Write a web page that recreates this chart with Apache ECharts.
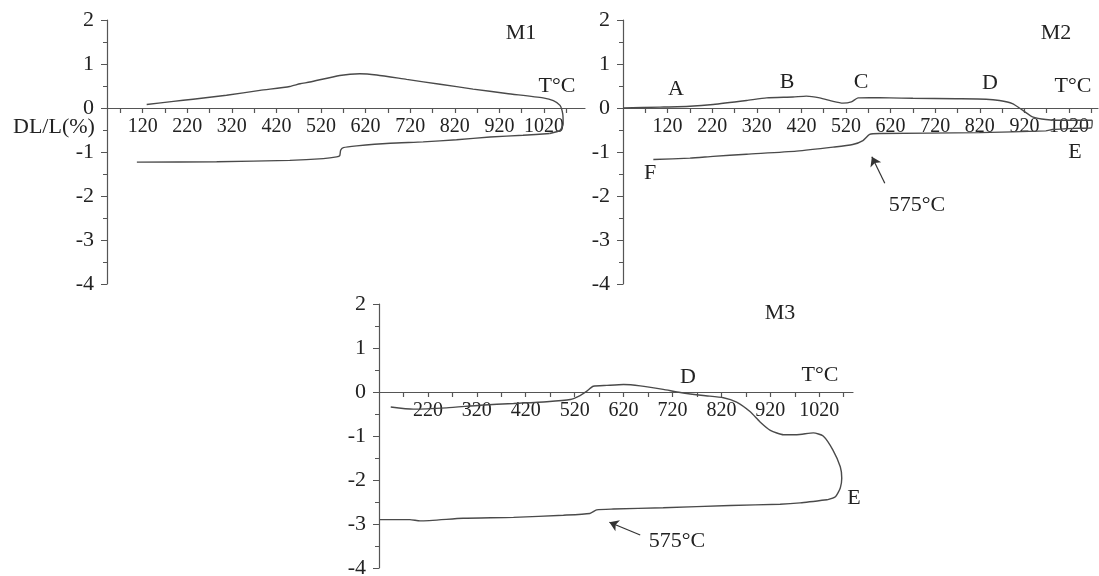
<!DOCTYPE html>
<html>
<head>
<meta charset="utf-8">
<script src="https://cdn.jsdelivr.net/npm/echarts@6/dist/echarts.min.js"></script>
<style>
  html, body { margin: 0; padding: 0; background: #fff; }
  #main { width: 1099px; height: 576px; }
</style>
</head>
<body>
<div id="main"></div>
<script>
// dilatometer curves, [T °C, DL/L %]
const m1Heat = [[129,0.08],[189,0.15],[233,0.2],[308,0.29],[383,0.4],[450,0.49],[473,0.55],[495,0.59],[562,0.74],[607,0.78],[645,0.75],[712,0.65],[787,0.54],[861,0.43],[936,0.33],[1018,0.23],[1041,0.17],[1056,0.06],[1062,-0.13],[1063,-0.36],[1056,-0.51],[1033,-0.58]];
const m1Cool = [[1033,-0.58],[973,-0.62],[899,-0.66],[824,-0.72],[749,-0.77],[675,-0.8],[600,-0.86],[570,-0.9],[564,-0.96],[562,-1.08],[555,-1.11],[525,-1.15],[450,-1.19],[286,-1.22],[107,-1.23]];

const m2Heat = [[20,0],[103,0.02],[170,0.04],[222,0.08],[297,0.17],[342,0.23],[401,0.25],[431,0.27],[461,0.23],[491,0.15],[513,0.11],[532,0.14],[547,0.23],[573,0.235],[618,0.23],[670,0.22],[767,0.21],[834,0.2],[864,0.17],[893,0.1],[916,-0.05],[938,-0.2],[968,-0.26],[1020,-0.28],[1072,-0.28]];
const m2Cool = [[1072,-0.28],[1070,-0.45],[1043,-0.46],[983,-0.49],[968,-0.52],[819,-0.56],[595,-0.58],[573,-0.6],[558,-0.74],[535,-0.83],[491,-0.89],[409,-0.98],[297,-1.05],[222,-1.1],[170,-1.14],[88,-1.17]];

const m3Heat = [[144,-0.34],[190,-0.39],[258,-0.36],[327,-0.3],[395,-0.26],[463,-0.22],[511,-0.17],[531,-0.08],[545,0.02],[558,0.13],[586,0.15],[620,0.17],[654,0.14],[701,0.06],[736,-0.01],[783,-0.08],[824,-0.13],[851,-0.23],[879,-0.45],[899,-0.68],[920,-0.87],[947,-0.97],[974,-0.97],[1008,-0.93],[1028,-1.0],[1048,-1.32],[1063,-1.7],[1066,-1.96],[1063,-2.18],[1053,-2.38],[1036,-2.45]];
const m3Cool = [[1036,-2.45],[981,-2.52],[940,-2.55],[838,-2.58],[701,-2.63],[599,-2.66],[565,-2.68],[551,-2.76],[497,-2.8],[395,-2.85],[292,-2.87],[204,-2.93],[183,-2.9],[122,-2.9]];

// axis labels
const m1XLabels = [120,220,320,420,520,620,720,820,920,1020];
const m2XLabels = [120,220,320,420,520,620,720,820,920,1020];
const m3XLabels = [220,320,420,520,620,720,820,920,1020];
const yLabels = [-4,-3,-2,-1,0,1,2];

// arrows pointing at the 575°C step
const m2Arrow = [[607,-1.71],[578,-1.11]];
const m3Arrow = [[654,-3.25],[591,-2.96]];

const FONT = '"Liberation Serif", "Times New Roman", serif';
const INK = '#222';
const AXIS = '#555';
const CURVE = '#4a4a4a';

function ticksFrom(start, stop, step) {
    let out = [];
    for (let v = start; v <= stop; v += step) out.push(v);
    return out;
}

// each panel: a full plot grid and an upper grid whose bottom edge is the zero line (carries the T axis)
const panels = [
    {left: 107, top: 20, width: 478, min: 40, max: 1112, labels: m1XLabels, ticks: ticksFrom(70, 1070, 50)},
    {left: 623, top: 20, width: 475, min: 20, max: 1085, labels: m2XLabels, ticks: ticksFrom(70, 1070, 50)},
    {left: 379, top: 304, width: 474, min: 120, max: 1089, labels: m3XLabels, ticks: ticksFrom(170, 1070, 50)}
];
const H = 264;          // -4 .. 2
const H_TOP = H / 3;    // 0 .. 2

let grids = [], xAxes = [], yAxes = [];
panels.forEach((p, i) => {
    grids.push({left: p.left, top: p.top, width: p.width, height: H, containLabel: false, outerBoundsMode: 'none'});
    grids.push({left: p.left, top: p.top, width: p.width, height: H_TOP, containLabel: false, outerBoundsMode: 'none'});
    xAxes.push({gridIndex: 2 * i, type: 'value', min: p.min, max: p.max, show: false});
    xAxes.push({
        gridIndex: 2 * i + 1, type: 'value', min: p.min, max: p.max, position: 'bottom',
        axisLine: {show: true, onZero: false, lineStyle: {color: AXIS, width: 1.2}},
        axisTick: {show: true, customValues: p.ticks, length: 5, lineStyle: {color: AXIS, width: 1.2}},
        axisLabel: {customValues: p.labels, margin: 9, fontSize: 20, fontFamily: FONT, color: INK,
                    formatter: v => String(v)},
        splitLine: {show: false}
    });
    yAxes.push({
        gridIndex: 2 * i, type: 'value', min: -4, max: 2, interval: 1,
        axisLine: {show: true, onZero: false, lineStyle: {color: AXIS, width: 1.2}},
        axisTick: {show: true, length: 6, lineStyle: {color: AXIS}},
        minorTick: {show: true, splitNumber: 2, length: 4, lineStyle: {color: AXIS}},
        axisLabel: {customValues: yLabels, margin: 13, fontSize: 22, fontFamily: FONT, color: INK},
        splitLine: {show: false}
    });
    yAxes.push({gridIndex: 2 * i + 1, type: 'value', min: 0, max: 2, show: false});
});

function curve(i, data, arrow) {
    let s = {
        type: 'line', xAxisIndex: 2 * i, yAxisIndex: 2 * i, data: data,
        showSymbol: false, smooth: 0.2,
        lineStyle: {color: CURVE, width: 1.4},
        animation: false
    };
    if (arrow) {
        s.markLine = {
            silent: true, animation: false,
            symbol: ['none', 'arrow'], symbolSize: 9,
            lineStyle: {color: '#333', width: 1.2, type: 'solid'},
            label: {show: false},
            data: [[{coord: arrow[0]}, {coord: arrow[1]}]]
        };
    }
    return s;
}

function txt(text, x, y, align) {
    return {
        type: 'text', x: x, y: y, silent: true,
        style: {
            text: text, font: '22px ' + FONT, fill: INK,
            align: align || 'center', textAlign: align || 'center',
            verticalAlign: 'middle', textVerticalAlign: 'middle'
        }
    };
}

let option = {
    backgroundColor: '#fff',
    animation: false,
    grid: grids,
    xAxis: xAxes,
    yAxis: yAxes,
    series: [
        curve(0, m1Heat), curve(0, m1Cool),
        curve(1, m2Heat), curve(1, m2Cool, m2Arrow),
        curve(2, m3Heat), curve(2, m3Cool, m3Arrow)
    ],
    graphic: [
        txt('DL/L(%)', 13, 127, 'left'),
        txt('M1', 521, 33), txt('T°C', 557, 86),
        txt('M2', 1056, 33), txt('T°C', 1073, 86),
        txt('A', 676, 89), txt('B', 787, 82), txt('C', 861, 82), txt('D', 990, 83),
        txt('E', 1075, 152), txt('F', 650, 173), txt('575°C', 917, 205),
        txt('M3', 780, 313), txt('D', 688, 377), txt('T°C', 820, 375),
        txt('E', 854, 498), txt('575°C', 677, 541)
    ]
};

let chart = echarts.init(document.getElementById('main'));
chart.setOption(option);
</script>
</body>
</html>
